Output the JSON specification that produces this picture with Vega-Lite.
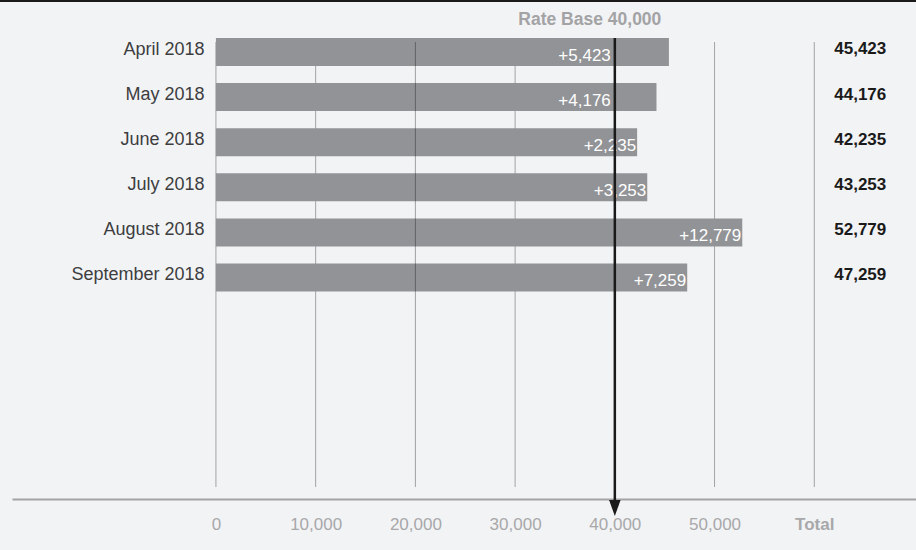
{
  "$schema": "https://vega.github.io/schema/vega-lite/v6.json",
  "width": 904,
  "height": 449,
  "padding": {"left": 12, "top": 38, "right": 0, "bottom": 63},
  "autosize": {"type": "none"},
  "background": "#f2f3f5",
  "config": {
    "view": {"stroke": null},
    "font": "Liberation Sans"
  },
  "data": {
    "values": [
      {"month": "April 2018", "total": 45423, "delta": 5423},
      {"month": "May 2018", "total": 44176, "delta": 4176},
      {"month": "June 2018", "total": 42235, "delta": 2235},
      {"month": "July 2018", "total": 43253, "delta": 3253},
      {"month": "August 2018", "total": 52779, "delta": 12779},
      {"month": "September 2018", "total": 47259, "delta": 7259}
    ]
  },
  "layer": [
    {
      "data": {"values": [{"g": 0}, {"g": 10000}, {"g": 30000}, {"g": 40000}, {"g": 50000}, {"g": 60000}]},
      "mark": {"type": "rule", "color": "#a3a3a5", "strokeWidth": 1, "yOffset": 4},
      "encoding": {
        "x": {"field": "g", "type": "quantitative"},
        "y": {"value": 0},
        "y2": {"value": "height"}
      }
    },
    {
      "mark": {"type": "bar", "color": "#929396"},
      "encoding": {
        "x": {
          "field": "total",
          "type": "quantitative",
          "scale": {"domain": [-20450, 70200], "nice": false, "zero": false},
          "axis": {
            "title": null,
            "values": [0, 10000, 20000, 30000, 40000, 50000, 60000],
            "labelExpr": "datum.value == 60000 ? 'Total' : format(datum.value, ',')",
            "grid": false,
            "domainColor": "#a3a3a5",
            "domainWidth": 2,
            "offset": 12,
            "ticks": false,
            "tickSize": 0,
            "labelPadding": 17,
            "labelFontSize": 17,
            "labelColor": "#a8a8aa",
            "labelFontWeight": {"condition": {"test": "datum.value == 60000", "value": "bold"}, "value": "normal"},
            "labelOverlap": false,
            "labelFlush": false
          }
        },
        "y": {
          "field": "month",
          "type": "nominal",
          "sort": null,
          "scale": {
            "domain": ["April 2018", "May 2018", "June 2018", "July 2018", "August 2018", "September 2018"],
            "range": [0, 253.6],
            "paddingInner": 0.38,
            "paddingOuter": 0
          },
          "axis": {
            "title": null,
            "orient": "left",
            "offset": -192,
            "domain": false,
            "ticks": false,
            "tickSize": 0,
            "labelPadding": 0,
            "labelFontSize": 18,
            "labelColor": "#3d3d3f",
            "labelOffset": -2.4,
            "labelLimit": 0,
            "grid": false
          }
        }
      }
    },
    {
      "data": {"values": [{"v": 20000}]},
      "mark": {"type": "rule", "color": "#000000", "opacity": 0.34, "strokeWidth": 1, "yOffset": 4},
      "encoding": {
        "x": {"field": "v", "type": "quantitative"},
        "y": {"value": 0},
        "y2": {"value": "height"}
      }
    },
    {
      "transform": [{"filter": "datum.month == 'April 2018' || datum.month == 'May 2018'"}],
      "mark": {"type": "text", "align": "right", "baseline": "middle", "dx": -4, "dy": 3.7, "fontSize": 17, "color": "#ffffff"},
      "encoding": {
        "x": {"datum": 40000, "type": "quantitative"},
        "y": {"field": "month", "type": "nominal", "sort": null},
        "text": {"field": "delta", "type": "quantitative", "format": "+,"}
      }
    },
    {
      "transform": [{"filter": "datum.month != 'April 2018' && datum.month != 'May 2018'"}],
      "mark": {"type": "text", "align": "right", "baseline": "middle", "dx": -1, "dy": 3.7, "fontSize": 17, "color": "#ffffff"},
      "encoding": {
        "x": {"field": "total", "type": "quantitative"},
        "y": {"field": "month", "type": "nominal", "sort": null},
        "text": {"field": "delta", "type": "quantitative", "format": "+,"}
      }
    },
    {
      "mark": {"type": "text", "align": "left", "baseline": "middle", "dx": 20, "dy": -2.6, "fontSize": 17, "fontWeight": "bold", "color": "#1a1a1a"},
      "encoding": {
        "x": {"datum": 60000, "type": "quantitative"},
        "y": {"field": "month", "type": "nominal", "sort": null},
        "text": {"field": "total", "type": "quantitative", "format": ","}
      }
    },
    {
      "data": {"values": [{"rate": 40000, "label": "Rate Base 40,000"}]},
      "layer": [
        {
          "mark": {"type": "rule", "color": "#1a1a1a", "strokeWidth": 2.5, "y2Offset": 14},
          "encoding": {
            "x": {"field": "rate", "type": "quantitative"},
            "y": {"value": 0},
            "y2": {"value": "height"}
          }
        },
        {
          "mark": {"type": "point", "shape": "M-0.72,-1L0.72,-1L0,1Z", "filled": true, "color": "#1a1a1a", "opacity": 1, "size": 256, "yOffset": 21},
          "encoding": {
            "x": {"field": "rate", "type": "quantitative"},
            "y": {"value": "height"}
          }
        },
        {
          "mark": {"type": "text", "align": "center", "baseline": "middle", "dx": -25, "dy": -18.2, "fontSize": 17.5, "fontWeight": "bold", "color": "#a3a3a5"},
          "encoding": {
            "x": {"field": "rate", "type": "quantitative"},
            "y": {"value": 0},
            "text": {"field": "label"}
          }
        },
        {
          "mark": {"type": "rule", "color": "#1a1a1a", "strokeWidth": 2, "xOffset": -12, "yOffset": -37},
          "encoding": {
            "x": {"value": 0},
            "x2": {"value": "width"},
            "y": {"value": 0}
          }
        }
      ]
    }
  ]
}
